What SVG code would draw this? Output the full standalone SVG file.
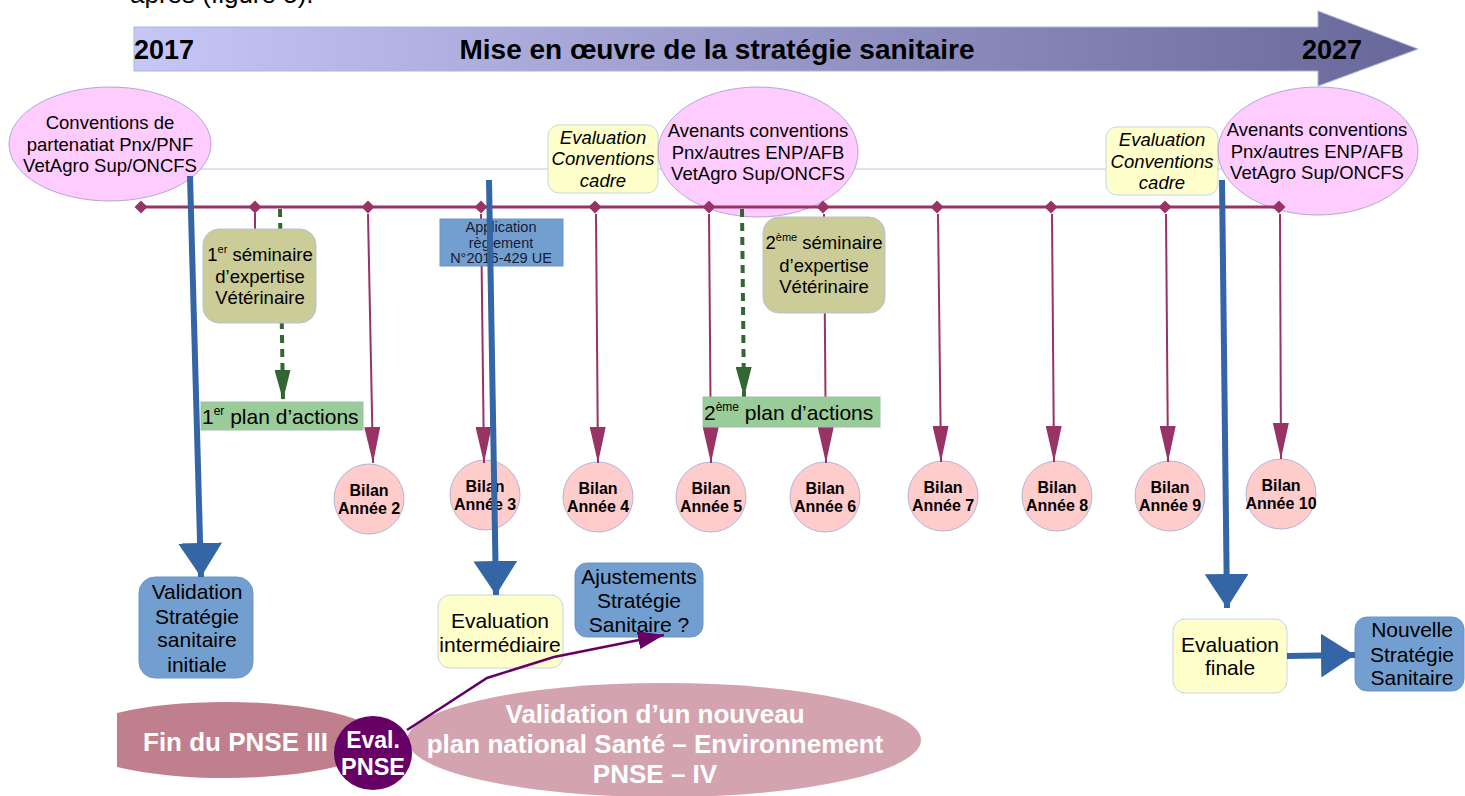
<svg xmlns="http://www.w3.org/2000/svg" width="1465" height="796" viewBox="0 0 1465 796">
<style>
text { font-family: "Liberation Sans", Arial, sans-serif; fill: #000; }
.m { text-anchor: middle; }
.b { font-weight: bold; }
.ell { fill: #ffccff; stroke: #b4a7d6; stroke-width: 1; }
.yel { fill: #ffffcc; stroke: #c6d3e3; stroke-width: 1; }
.sem { fill: #cccc99; stroke: #b7c2d6; stroke-width: 1; }
.plan { fill: #99cc99; stroke: #9fbfa8; stroke-width: 1; }
.blue { fill: #729fcf; stroke: #6a96c6; stroke-width: 1; }
.bilan { fill: #ffcccc; stroke: #b4b4d8; stroke-width: 1; }
.mag { stroke: #993366; stroke-width: 2; fill: none; marker-end: url(#mh); }
.grn { stroke: #336633; stroke-width: 4; fill: none; stroke-dasharray: 8 6; marker-end: url(#gh); }
.bl { stroke: #3465a4; stroke-width: 6; fill: none; marker-end: url(#bh); }
.f18 { font-size: 18.5px; }
.f21 { font-size: 21px; }
.bt { font-size: 16px; font-weight: bold; }
.app { font-size: 14.5px; fill: #1a1a30; }
.w { fill: #fff; font-weight: bold; }
</style>
<defs>
<linearGradient id="ag" gradientUnits="userSpaceOnUse" x1="134" y1="0" x2="1418" y2="0">
<stop offset="0" stop-color="#c6c7f7"/>
<stop offset="1" stop-color="#68679a"/>
</linearGradient>
<marker id="mh" markerUnits="userSpaceOnUse" markerWidth="36" markerHeight="16" refX="36" refY="8" orient="auto" viewBox="0 0 36 16">
<path d="M0,0 L36,8 L0,16 z" fill="#993366"/>
</marker>
<marker id="gh" markerUnits="userSpaceOnUse" markerWidth="30" markerHeight="16" refX="30" refY="8" orient="auto" viewBox="0 0 30 16">
<path d="M0,0 L30,8 L0,16 z" fill="#336633"/>
</marker>
<marker id="bh" markerUnits="userSpaceOnUse" markerWidth="34" markerHeight="44" refX="34" refY="22" orient="auto" viewBox="0 0 34 44">
<path d="M0,0 L34,22 L0,44 z" fill="#3465a4"/>
</marker>
<marker id="ph" markerUnits="userSpaceOnUse" markerWidth="26" markerHeight="18" refX="26" refY="9" orient="auto" viewBox="0 0 26 18">
<path d="M0,0 L26,9 L0,18 z" fill="#660066"/>
</marker>
</defs>
<rect width="1465" height="796" fill="#fff"/>
<text x="130" y="3" style="font-size:26px">après (figure 5).</text>

<g id="timeline-arrow">
<path d="M134,27 H1318 V11 L1418,49 L1318,86 V71 H134 Z" fill="url(#ag)" stroke="#a8b6d8" stroke-width="1"/>
<text x="134" y="59" class="b" style="font-size:27px">2017</text>
<text x="717" y="59" class="m b" style="font-size:28px">Mise en œuvre de la stratégie sanitaire</text>
<text x="1302" y="59" class="b" style="font-size:27px">2027</text>
</g>

<line x1="200" y1="169" x2="1230" y2="169" stroke="#b7c8de" stroke-width="1"/>

<g id="conv1">
<ellipse cx="110" cy="144" rx="101" ry="57" class="ell"/>
<text class="m f18" x="110" y="129">Conventions de</text>
<text class="m f18" x="110" y="151">partenatiat Pnx/PNF</text>
<text class="m f18" x="110" y="172">VetAgro Sup/ONCFS</text>
</g>
<g id="evalconv1">
<rect x="548" y="125" width="110" height="68" rx="11" class="yel"/>
<text class="m f18" x="603" y="144" font-style="italic">Evaluation</text>
<text class="m f18" x="603" y="165" font-style="italic">Conventions</text>
<text class="m f18" x="603" y="187" font-style="italic">cadre</text>
</g>
<g id="conv2">
<ellipse cx="758" cy="152" rx="100" ry="65" class="ell"/>
<text class="m f18" x="758" y="137">Avenants conventions</text>
<text class="m f18" x="758" y="159">Pnx/autres ENP/AFB</text>
<text class="m f18" x="758" y="180">VetAgro Sup/ONCFS</text>
</g>
<g id="evalconv2">
<rect x="1106" y="127" width="112" height="68" rx="11" class="yel"/>
<text class="m f18" x="1162" y="146" font-style="italic">Evaluation</text>
<text class="m f18" x="1162" y="168" font-style="italic">Conventions</text>
<text class="m f18" x="1162" y="189" font-style="italic">cadre</text>
</g>
<g id="conv3">
<ellipse cx="1318" cy="151" rx="100" ry="64" class="ell"/>
<text class="m f18" x="1317" y="136">Avenants conventions</text>
<text class="m f18" x="1317" y="158">Pnx/autres ENP/AFB</text>
<text class="m f18" x="1317" y="179">VetAgro Sup/ONCFS</text>
</g>

<g id="bilans">
<g id="bilan2"><circle cx="369" cy="499" r="35" class="bilan"/><text class="m bt" x="369" y="496">Bilan</text><text class="m bt" x="369" y="514">Année 2</text></g>
<g id="bilan3"><circle cx="485" cy="495" r="35" class="bilan"/><text class="m bt" x="485" y="492">Bilan</text><text class="m bt" x="485" y="510">Année 3</text></g>
<g id="bilan4"><circle cx="598" cy="497" r="35" class="bilan"/><text class="m bt" x="598" y="494">Bilan</text><text class="m bt" x="598" y="512">Année 4</text></g>
<g id="bilan5"><circle cx="711" cy="497" r="35" class="bilan"/><text class="m bt" x="711" y="494">Bilan</text><text class="m bt" x="711" y="512">Année 5</text></g>
<g id="bilan6"><circle cx="825" cy="497" r="35" class="bilan"/><text class="m bt" x="825" y="494">Bilan</text><text class="m bt" x="825" y="512">Année 6</text></g>
<g id="bilan7"><circle cx="943" cy="496" r="35" class="bilan"/><text class="m bt" x="943" y="493">Bilan</text><text class="m bt" x="943" y="511">Année 7</text></g>
<g id="bilan8"><circle cx="1057" cy="496" r="35" class="bilan"/><text class="m bt" x="1057" y="493">Bilan</text><text class="m bt" x="1057" y="511">Année 8</text></g>
<g id="bilan9"><circle cx="1170" cy="496" r="35" class="bilan"/><text class="m bt" x="1170" y="493">Bilan</text><text class="m bt" x="1170" y="511">Année 9</text></g>
<g id="bilan10"><circle cx="1281" cy="494" r="35" class="bilan"/><text class="m bt" x="1281" y="491">Bilan</text><text class="m bt" x="1281" y="509">Année 10</text></g>
</g>

<g id="timeline">
<line x1="141" y1="207" x2="1280" y2="207" stroke="#993366" stroke-width="3"/>
<g fill="#993366">
<path d="M141,200.5 l6.5,6.5 l-6.5,6.5 l-6.5,-6.5 z"/>
<path d="M255,200.5 l6.5,6.5 l-6.5,6.5 l-6.5,-6.5 z"/>
<path d="M368,200.5 l6.5,6.5 l-6.5,6.5 l-6.5,-6.5 z"/>
<path d="M481,200.5 l6.5,6.5 l-6.5,6.5 l-6.5,-6.5 z"/>
<path d="M595,200.5 l6.5,6.5 l-6.5,6.5 l-6.5,-6.5 z"/>
<path d="M709,200.5 l6.5,6.5 l-6.5,6.5 l-6.5,-6.5 z"/>
<path d="M823,200.5 l6.5,6.5 l-6.5,6.5 l-6.5,-6.5 z"/>
<path d="M937,200.5 l6.5,6.5 l-6.5,6.5 l-6.5,-6.5 z"/>
<path d="M1051,200.5 l6.5,6.5 l-6.5,6.5 l-6.5,-6.5 z"/>
<path d="M1165,200.5 l6.5,6.5 l-6.5,6.5 l-6.5,-6.5 z"/>
<path d="M1279,200.5 l6.5,6.5 l-6.5,6.5 l-6.5,-6.5 z"/>
</g>
</g>

<g id="connectors">
<line x1="255" y1="213" x2="255" y2="232" stroke="#993366" stroke-width="2"/>
<path class="mag" d="M368,214 L373,463"/>
<path class="mag" d="M481,214 L484,463"/>
<path class="mag" d="M596,214 L598,463"/>
<path class="mag" d="M709,214 L711,463"/>
<path class="mag" d="M824,214 L826,463"/>
<path class="mag" d="M938,214 L941,462"/>
<path class="mag" d="M1052,214 L1054,462"/>
<path class="mag" d="M1166,214 L1168,462"/>
<path class="mag" d="M1280,214 L1281,459"/>
<path class="grn" d="M280,209 L283,400"/>
<path class="grn" d="M742,209 L744,397"/>
</g>

<g id="seminaire1">
<rect x="203" y="229" width="113" height="94" rx="16" class="sem"/>
<text class="m f18" x="260" y="261">1<tspan font-size="11" dy="-8">er</tspan><tspan dy="8"> séminaire</tspan></text>
<text class="m f18" x="260" y="283">d’expertise</text>
<text class="m f18" x="260" y="304">Vétérinaire</text>
</g>
<g id="plan1">
<rect x="201" y="402" width="162" height="28" class="plan"/>
<text x="202" y="424" class="f21">1<tspan font-size="12" dy="-9">er</tspan><tspan dy="9"> plan d’actions</tspan></text>
</g>
<g id="application">
<rect x="440" y="219" width="123" height="47" class="blue"/>
<text class="m app" x="501" y="232">Application</text>
<text class="m app" x="501" y="248">règlement</text>
<text class="m app" x="501" y="263">N°2016-429 UE</text>
</g>
<g id="seminaire2">
<rect x="763" y="217" width="122" height="96" rx="16" class="sem"/>
<text class="m f18" x="824" y="249">2<tspan font-size="11" dy="-8">ème</tspan><tspan dy="8"> séminaire</tspan></text>
<text class="m f18" x="824" y="272">d’expertise</text>
<text class="m f18" x="824" y="293">Vétérinaire</text>
</g>
<g id="plan2">
<rect x="703" y="397" width="177" height="30" class="plan"/>
<text x="704" y="420" class="f21">2<tspan font-size="12" dy="-9">ème</tspan><tspan dy="9"> plan d’actions</tspan></text>
</g>

<g id="validation-initiale">
<rect x="139" y="577" width="114" height="101" rx="16" class="blue"/>
<text class="m f21" x="197" y="599">Validation</text>
<text class="m f21" x="197" y="624">Stratégie</text>
<text class="m f21" x="197" y="647">sanitaire</text>
<text class="m f21" x="197" y="672">initiale</text>
</g>
<g id="evaluation-intermediaire">
<rect x="438" y="595" width="125" height="73" rx="12" class="yel"/>
<text class="m f21" x="500" y="628">Evaluation</text>
<text class="m f21" x="500" y="652">intermédiaire</text>
</g>
<g id="ajustements">
<rect x="575" y="563" width="128" height="74" rx="12" class="blue"/>
<text class="m f21" x="639" y="584">Ajustements</text>
<text class="m f21" x="639" y="608">Stratégie</text>
<text class="m f21" x="639" y="632">Sanitaire ?</text>
</g>
<g id="evaluation-finale">
<rect x="1173" y="619" width="114" height="74" rx="12" class="yel"/>
<text class="m f21" x="1230" y="652">Evaluation</text>
<text class="m f21" x="1230" y="675">finale</text>
</g>
<g id="nouvelle-strategie">
<rect x="1355" y="617" width="109" height="74" rx="12" class="blue"/>
<text class="m f21" x="1412" y="637">Nouvelle</text>
<text class="m f21" x="1412" y="662">Stratégie</text>
<text class="m f21" x="1412" y="685">Sanitaire</text>
</g>

<g id="pnse4">
<ellipse cx="664" cy="740" rx="257" ry="57" fill="#d3a4b0"/>
<text class="m w" x="655" y="723" style="font-size:26px">Validation d’un nouveau</text>
<text class="m w" x="655" y="753" style="font-size:26px">plan national Santé – Environnement</text>
<text class="m w" x="655" y="783" style="font-size:26px">PNSE – IV</text>
</g>
<g id="fin-pnse3">
<path d="M117,713 A155,38 0 1 1 117,767 Z" fill="#bf7f8c"/>
<text x="143" y="751" class="w" style="font-size:26px">Fin du PNSE III</text>
</g>
<g id="eval-pnse">
<ellipse cx="373" cy="753" rx="39" ry="37" fill="#660066"/>
<text class="m w" x="373" y="748" style="font-size:23px">Eval.</text>
<text class="m w" x="373" y="775" style="font-size:23.5px">PNSE</text>
</g>

<g id="connectors-main">
<path class="bl" d="M190,176 L201,577"/>
<path class="bl" d="M489,180 L496,595"/>
<path class="bl" d="M1222,180 L1227,608"/>
<path class="bl" d="M1287,656 L1355,655"/>
<path d="M407,730 L487,678 L554,657 L664,635" stroke="#660066" stroke-width="2.5" fill="none" marker-end="url(#ph)"/>
</g>
</svg>
